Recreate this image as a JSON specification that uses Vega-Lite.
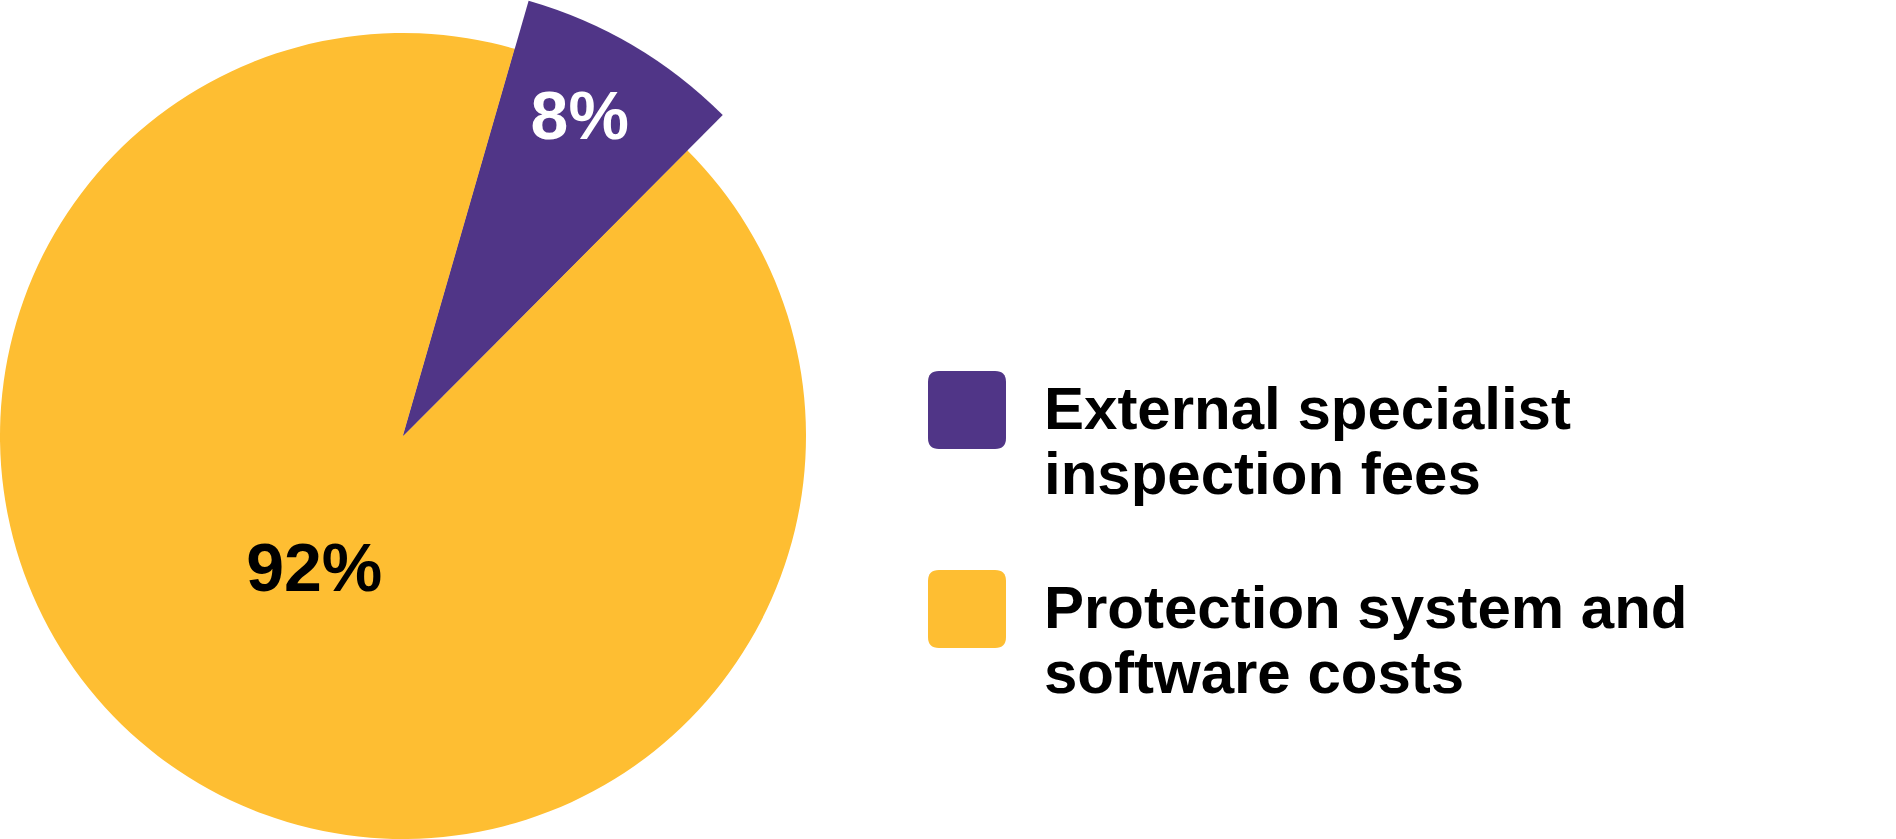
{
  "$schema": "https://vega.github.io/schema/vega-lite/v6.json",
  "width": 806,
  "height": 806,
  "autosize": {"type": "none"},
  "padding": {"left": 0, "top": 33, "right": 1090, "bottom": 0},
  "background": "white",
  "config": {"view": {"stroke": null}},
  "data": {
    "values": [
      {"category": "External specialist inspection fees", "value": 8, "label": "8%"},
      {"category": "Protection system and software costs", "value": 92, "label": "92%"}
    ]
  },
  "encoding": {
    "theta": {
      "field": "value",
      "type": "quantitative",
      "stack": true,
      "scale": {"range": [0.281, 6.5642]}
    }
  },
  "layer": [
    {
      "mark": {"type": "arc", "outerRadius": 403, "strokeWidth": 0},
      "encoding": {
        "color": {
          "field": "category",
          "type": "nominal",
          "scale": {
            "domain": ["External specialist inspection fees", "Protection system and software costs"],
            "range": ["#503587", "#FEBE32"]
          },
          "legend": {
            "orient": "none",
            "legendX": 928,
            "legendY": 338,
            "title": null,
            "direction": "vertical",
            "symbolType": "M -0.72,-1 L 0.72,-1 Q 1,-1 1,-0.72 L 1,0.72 Q 1,1 0.72,1 L -0.72,1 Q -1,1 -1,0.72 L -1,-0.72 Q -1,-1 -0.72,-1 Z",
            "symbolSize": 6084,
            "symbolStrokeWidth": 0,
            "symbolOpacity": 1,
            "labelFont": "Liberation Sans",
            "labelFontSize": 60,
            "labelFontWeight": "bold",
            "labelColor": "black",
            "labelLimit": 0,
            "labelOffset": 38,
            "rowPadding": 64,
            "labelBaseline": "alphabetic",
            "labelExpr": "datum.label == 'External specialist inspection fees' ? ['External specialist', 'inspection fees'] : ['Protection system and', 'software costs']",
            "encode": {"labels": {"update": {"lineHeight": {"value": 65}, "dy": {"value": 19}}}}
          }
        }
      }
    },
    {
      "mark": {"type": "arc", "outerRadius": 453, "strokeWidth": 0},
      "encoding": {
        "color": {"field": "category", "type": "nominal"},
        "opacity": {
          "condition": {"test": "datum.category === 'External specialist inspection fees'", "value": 1},
          "value": 0
        }
      }
    },
    {
      "mark": {"type": "text", "radius": 364, "dx": -8, "dy": -3, "font": "Liberation Sans", "fontWeight": "bold", "fontSize": 68, "color": "white"},
      "encoding": {
        "text": {
          "condition": {"test": "datum.category === 'External specialist inspection fees'", "field": "label"},
          "value": ""
        }
      }
    },
    {
      "mark": {"type": "text", "radius": 163, "dx": -6, "dy": -5, "font": "Liberation Sans", "fontWeight": "bold", "fontSize": 68, "color": "black"},
      "encoding": {
        "text": {
          "condition": {"test": "datum.category === 'Protection system and software costs'", "field": "label"},
          "value": ""
        }
      }
    }
  ]
}
